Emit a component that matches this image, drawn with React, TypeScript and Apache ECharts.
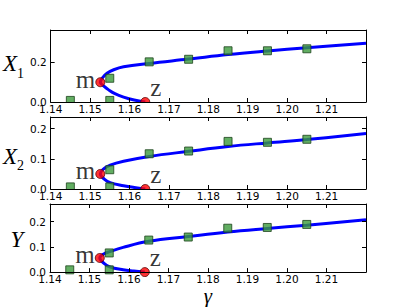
import React, { useEffect, useRef } from "react";
import * as echarts from "echarts";

// ---- data (gamma, value) ----
const gammaMin = 1.14;
const gammaMax = 1.22;
const gammaStep = 0.01;

const x1Curve = [
  [1.164, 0], [1.1612, 0.01], [1.1585, 0.025], [1.1563, 0.042], [1.1548, 0.06],
  [1.1535, 0.08], [1.1526, 0.1], [1.1532, 0.123], [1.1543, 0.145], [1.156, 0.163],
  [1.1585, 0.178], [1.165, 0.195], [1.175, 0.217], [1.185, 0.24], [1.195, 0.258],
  [1.205, 0.274], [1.22, 0.297],
];
const x2Curve = [
  [1.164, 0], [1.1612, 0.005], [1.1585, 0.011], [1.1551, 0.021], [1.1536, 0.033],
  [1.1526, 0.05], [1.1533, 0.065], [1.1551, 0.079], [1.1585, 0.092], [1.165, 0.108],
  [1.175, 0.125], [1.185, 0.141], [1.195, 0.153], [1.205, 0.164], [1.22, 0.184],
];
const yCurve = [
  [1.164, 0], [1.1612, 0.004], [1.1585, 0.009], [1.1551, 0.021], [1.1536, 0.036],
  [1.1526, 0.056], [1.1535, 0.071], [1.1551, 0.081], [1.1585, 0.098], [1.165, 0.122],
  [1.175, 0.141], [1.185, 0.159], [1.195, 0.173], [1.205, 0.186], [1.22, 0.208],
];

const x1Squares = [
  [1.145, 0.008], [1.155, 0.008], [1.155, 0.12], [1.165, 0.203], [1.175, 0.216],
  [1.185, 0.259], [1.195, 0.259], [1.205, 0.269],
];
const x2Squares = [
  [1.145, 0.007], [1.155, 0.007], [1.155, 0.064], [1.165, 0.117], [1.175, 0.126],
  [1.185, 0.158], [1.195, 0.155], [1.205, 0.165],
];
const ySquares = [
  [1.145, 0.009], [1.155, 0.009], [1.155, 0.076], [1.165, 0.127], [1.175, 0.139],
  [1.185, 0.174], [1.195, 0.177], [1.205, 0.189],
];

const x1M = [1.1526, 0.1];
const x2M = [1.1526, 0.05];
const yM = [1.1526, 0.056];
const x1Z = [1.164, 0];
const x2Z = [1.164, 0];
const yZ = [1.164, 0];

const panels = [
  { title: "X", sub: "1", curve: x1Curve, squares: x1Squares, m: x1M, z: x1Z, yMax: 0.364, yStep: 0.2, gap: 25, pad: [0, 0, 5, 0] },
  { title: "X", sub: "2", curve: x2Curve, squares: x2Squares, m: x2M, z: x2Z, yMax: 0.239, yStep: 0.1, gap: 25, pad: [6, 0, 0, 0] },
  { title: "Y", sub: "", curve: yCurve, squares: ySquares, m: yM, z: yZ, yMax: 0.27, yStep: 0.1, gap: 19, pad: [3, 0, 0, 0] },
];

// ---- layout ----
const LEFT = 50;
const WIDTH = 316;
const HEIGHT = 72;
const TOPS = [30, 117, 204];

const SERIF = "Liberation Serif";
const SANS = "DejaVu Sans";

export default function App() {
  const ref = useRef<HTMLDivElement>(null);

  useEffect(() => {
    if (!ref.current) return;
    const chart = echarts.init(ref.current, null, { renderer: "svg" });

    const axisLine = { show: true, onZero: false, lineStyle: { color: "#000", width: 1 } };
    const axisTick = { show: true, inside: true, length: 4, lineStyle: { color: "#000", width: 1 } };

    const grid: any[] = [];
    const xAxis: any[] = [];
    const yAxis: any[] = [];
    const series: any[] = [];
    const graphic: any[] = [];

    panels.forEach((p, i) => {
      grid.push({ left: LEFT, top: TOPS[i], width: WIDTH, height: HEIGHT });
      const xBase = {
        type: "value", gridIndex: i, min: gammaMin, max: gammaMax, interval: gammaStep,
        z: 10, axisLine, axisTick, splitLine: { show: false },
      };
      xAxis.push({
        ...xBase, position: "bottom",
        axisLabel: {
          show: true, margin: 1, fontSize: 10.5, fontFamily: SANS, color: "#000",
          showMaxLabel: false, formatter: (v: number) => v.toFixed(2),
        },
        name: i === panels.length - 1 ? "γ" : "",
        nameLocation: "middle", nameGap: 7,
        nameTextStyle: { fontFamily: SERIF, fontStyle: "italic", fontSize: 21, color: "#000" },
      });
      xAxis.push({ ...xBase, position: "top", axisLabel: { show: false } });

      const yBase = {
        type: "value", gridIndex: i, min: 0, max: p.yMax, interval: p.yStep,
        z: 10, axisLine, axisTick, splitLine: { show: false },
      };
      yAxis.push({
        ...yBase, position: "left",
        axisLabel: {
          show: true, margin: 4, fontSize: 10.5, fontFamily: SANS, color: "#000",
          showMaxLabel: false, formatter: (v: number) => v.toFixed(1),
        },
        name: p.sub ? `{a|${p.title}}{b|${p.sub}}` : `{a|${p.title}}`,
        nameLocation: "middle", nameRotate: 0, nameGap: p.gap,
        nameTextStyle: {
          padding: p.pad,
          rich: {
            a: { fontFamily: SERIF, fontStyle: "italic", fontSize: 23, lineHeight: 24, color: "#000" },
            b: { fontFamily: SERIF, fontSize: 14, lineHeight: 14, padding: [19, 0, 0, 0], color: "#000" },
          },
        },
      });
      yAxis.push({ ...yBase, position: "right", axisLabel: { show: false } });

      const xi = 2 * i;
      const yi = 2 * i;
      series.push({
        type: "line", xAxisIndex: xi, yAxisIndex: yi, data: p.curve, smooth: 0.4,
        showSymbol: false, symbol: "none", clip: true, z: 2,
        lineStyle: { color: "#0000ff", width: 3 },
      });
      series.push({
        type: "scatter", xAxisIndex: xi, yAxisIndex: yi, data: p.squares, z: 3,
        symbol: "rect", symbolSize: 8,
        itemStyle: { color: "#3b9a3b", borderColor: "#1c421c", borderWidth: 1 },
      });
      const labelFont = { fontFamily: SERIF, fontSize: 25, color: "#000" };
      series.push({
        type: "scatter", xAxisIndex: xi, yAxisIndex: yi, data: [p.m], z: 4,
        symbol: "circle", symbolSize: 9,
        itemStyle: { color: "#ff0000", borderColor: "#5a0000", borderWidth: 1 },
        label: { show: true, formatter: "m", position: "left", distance: 0, offset: [0, -3], ...labelFont },
      });
      series.push({
        type: "scatter", xAxisIndex: xi, yAxisIndex: yi, data: [p.z], z: 4,
        symbol: "circle", symbolSize: 9,
        itemStyle: { color: "#ff0000", borderColor: "#5a0000", borderWidth: 1 },
        label: { show: true, formatter: "z", position: "right", distance: 0, offset: [0, -15], ...labelFont },
      });

      // mask below the plot frame (matplotlib clips markers to the axes)
      graphic.push({
        type: "rect", z: 5, silent: true,
        shape: { x: LEFT + 1, y: TOPS[i] + HEIGHT + 1, width: WIDTH - 1, height: 6 },
        style: { fill: "#fff" },
      });
    });

    chart.setOption({
      animation: false,
      backgroundColor: "#fff",
      textStyle: { fontFamily: SANS },
      grid, xAxis, yAxis, series, graphic,
    });
    return () => chart.dispose();
  }, []);

  return <div ref={ref} style={{ position: "absolute", left: 0, top: 0, width: 407, height: 307 }} />;
}
